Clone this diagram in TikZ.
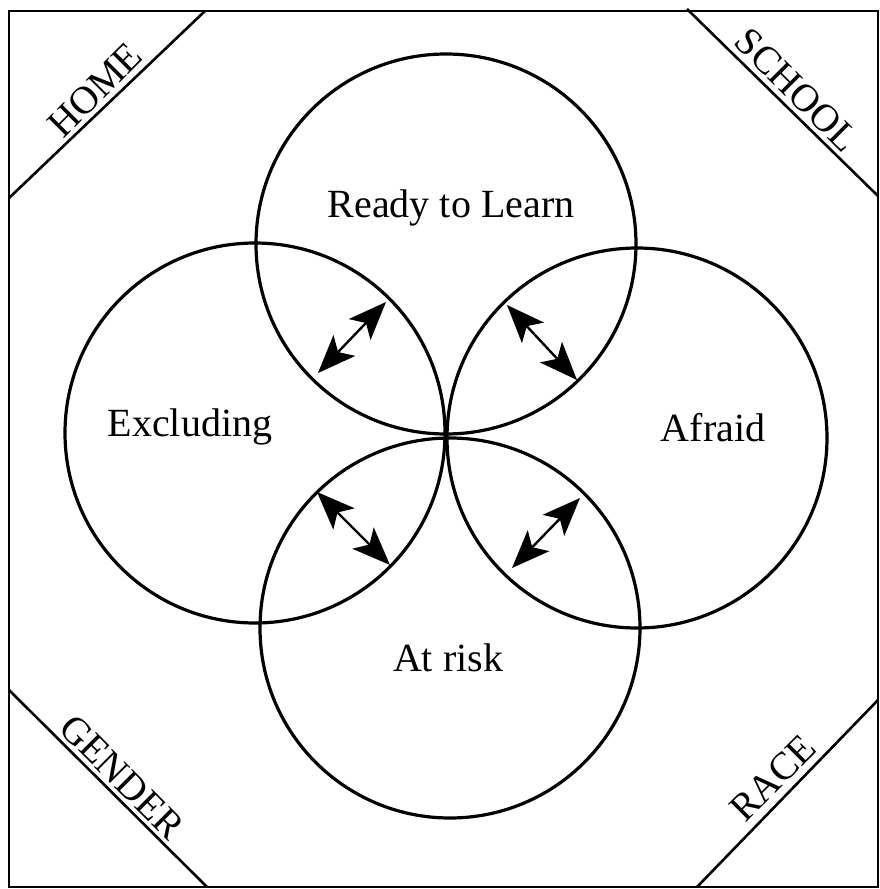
\documentclass[tikz,border=0pt]{standalone}
\usepackage{fontspec}
\setmainfont{Liberation Serif}
\usetikzlibrary{arrows.meta}
\begin{document}
\begin{tikzpicture}[x=1pt,y=-1pt,
  ring/.style={circle, draw, line width=3.2pt, minimum size=380pt, inner sep=0pt},
  label/.style={font=\fontsize{40}{40}\selectfont, inner sep=0pt},
  corner/.style={font=\fontsize{39}{39}\selectfont, inner sep=0pt},
  frame/.style={line width=2.6pt},
  tip/.style={Stealth[length=38pt,width=30pt,inset=9pt]},
  link/.style={line width=2.4pt, {Stealth[length=38pt,width=30pt,inset=9pt]}-{Stealth[length=38pt,width=30pt,inset=9pt]}}]
\useasboundingbox (0,0) rectangle (880,889);
% outer frame
\coordinate (f1) at (9,11);
\coordinate (f2) at (878,887);
\draw[frame] (f1) rectangle (f2);
% corner cuts
\coordinate (hA) at (9,198);   \coordinate (hB) at (205,11);
\coordinate (sA) at (687,9);   \coordinate (sB) at (878,196);
\coordinate (gA) at (9,690);   \coordinate (gB) at (207,887);
\coordinate (rA) at (697,887); \coordinate (rB) at (878,700);
\draw[frame] (hA) -- (hB);
\draw[frame] (sA) -- (sB);
\draw[frame] (gA) -- (gB);
\draw[frame] (rA) -- (rB);
\node[corner, rotate=45]  (home)   at (95,90)   {HOME};
\node[corner, rotate=-45] (school) at (797,90)  {SCHOOL};
\node[corner, rotate=-45] (gender) at (122,777) {GENDER};
\node[corner, rotate=45]  (race)   at (773,778) {RACE};
% four circles
\node[ring] (ready)  at (446,244) {};
\node[ring] (excl)   at (255,433) {};
\node[ring] (afraid) at (637,438) {};
\node[ring] (risk)   at (450,628) {};
\node[label] (tready)  at (451,208) {Ready to Learn};
\node[label] (texcl)   at (190,427) {Excluding};
\node[label] (tafraid) at (713,428) {Afraid};
\node[label] (trisk)   at (448,658) {At risk};
% two-way arrows in the overlaps
\coordinate (a1) at (318,373); \coordinate (a2) at (386,302);
\coordinate (b1) at (507,305); \coordinate (b2) at (577,380);
\coordinate (c1) at (317,492); \coordinate (c2) at (390,565);
\coordinate (d1) at (580,498); \coordinate (d2) at (512,568);
\draw[link] (a1) -- (a2);
\draw[link] (b1) -- (b2);
\draw[link] (c1) -- (c2);
\draw[link] (d1) -- (d2);
\end{tikzpicture}
\end{document}
